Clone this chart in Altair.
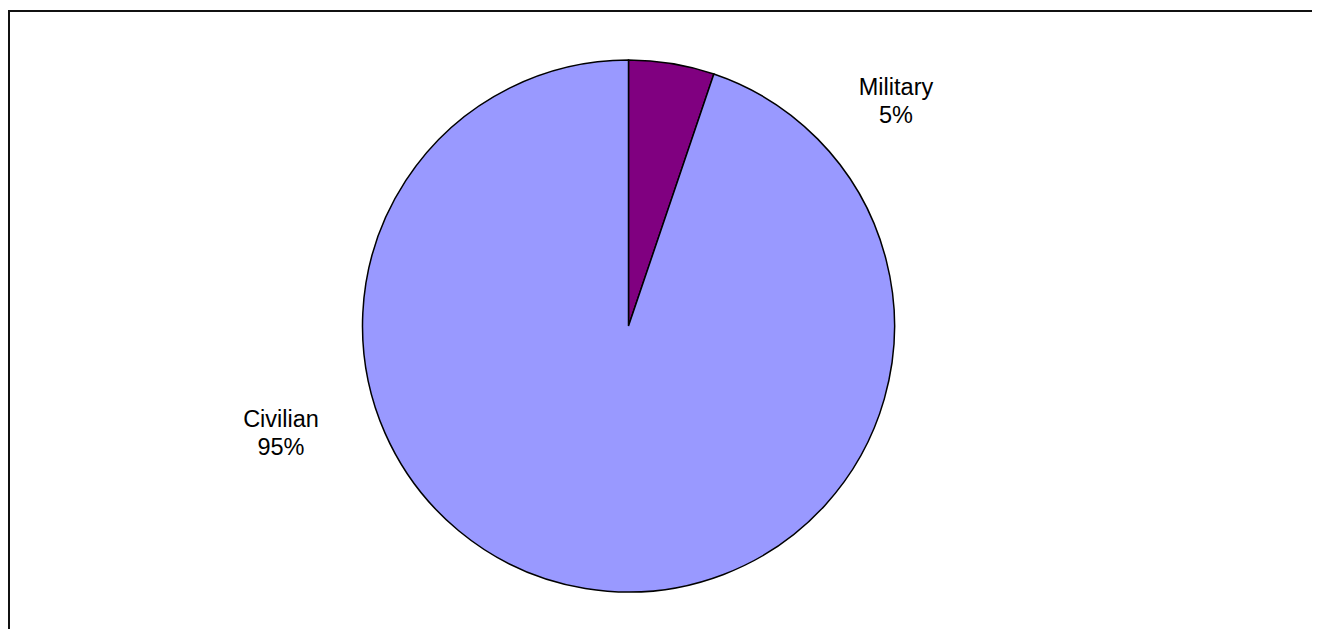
import altair as alt
import pandas as pd

categories = ["Military", "Civilian"]
shares = [5.2, 94.8]
pct_labels = ["5%", "95%"]
colors = ["#800080", "#9999FF"]

df = pd.DataFrame({"category": categories, "share": shares, "order": [0, 1]})
lab_df = pd.DataFrame({
    "category": categories,
    "text": [f"{c}\n{p}" for c, p in zip(categories, pct_labels)],
})

W, H = 1304, 621
cx, cy, R = 620.5, 318, 266

pie = alt.Chart(df).mark_arc(radius=R, stroke="black", strokeWidth=1.5).encode(
    theta=alt.Theta("share:Q", stack=True),
    color=alt.Color("category:N", scale=alt.Scale(domain=categories, range=colors), legend=None),
    order=alt.Order("order:Q"),
    x=alt.value(cx),
    y=alt.value(cy),
)

label_pos = {"Military": (888, 87), "Civilian": (273, 419)}
labels = []
for cat in categories:
    lx, ly = label_pos[cat]
    labels.append(
        alt.Chart(lab_df)
        .transform_filter(alt.datum.category == cat)
        .mark_text(font="Liberation Sans", fontSize=23.5, lineHeight=28, align="center",
                   baseline="alphabetic", lineBreak="\n", color="black")
        .encode(text="text:N", x=alt.value(lx), y=alt.value(ly))
    )

frame_df = pd.DataFrame({"a": [0]})
top_rule = alt.Chart(frame_df).mark_rule(color="#111111", strokeWidth=2).encode(
    x=alt.value(0), x2=alt.value(W), y=alt.value(3)
)
left_rule = alt.Chart(frame_df).mark_rule(color="#111111", strokeWidth=2).encode(
    x=alt.value(1), y=alt.value(2), y2=alt.value(H)
)

chart = alt.layer(pie, *labels, top_rule, left_rule).properties(
    width=W, height=H, autosize=alt.AutoSizeParams(type="none"), padding=0,
    background="white",
).configure_view(stroke=None)

chart.save("out.html", embed_options={"renderer": "svg", "actions": False})
